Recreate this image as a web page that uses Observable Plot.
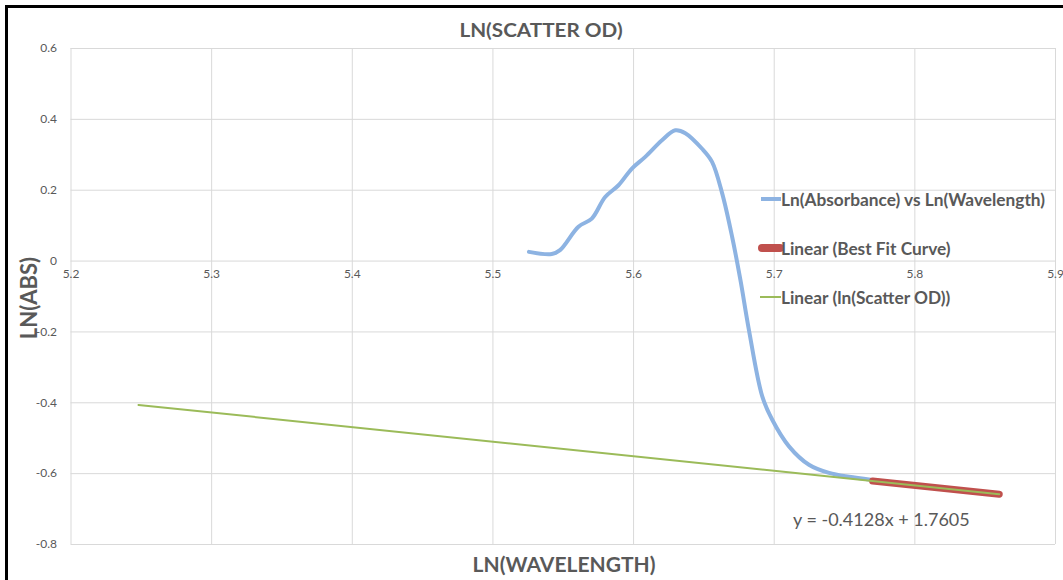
<!DOCTYPE html>
<html>
<head>
<meta charset="utf-8">
<script src="https://cdn.jsdelivr.net/npm/d3@7"></script>
<script src="https://cdn.jsdelivr.net/npm/@observablehq/plot@0.6"></script>
<style>
  html, body { margin: 0; padding: 0; background: #fff; }
  #wrap { position: relative; width: 1063px; height: 580px; overflow: hidden; font-family: Lato, "Open Sans", sans-serif; color: #595959; }
  #wrap svg { position: absolute; left: 0; top: 0; }
  .ov { position: absolute; white-space: nowrap; }
  #border { position: absolute; left: 5px; top: 5px; width: 1100px; height: 600px; border-left: 3px solid #000; border-top: 3px solid #000; pointer-events: none; }
</style>
</head>
<body>
<div id="wrap"></div>
<script>
// Ln(Absorbance) vs Ln(Wavelength) curve
const lnWavelength = [5.5256, 5.5418, 5.5477, 5.5608, 5.5703, 5.5798, 5.5893, 5.5988, 5.6083, 5.6202, 5.6297, 5.6368, 5.6487, 5.6558, 5.6630, 5.6701, 5.6760, 5.6820, 5.6915, 5.6986, 5.7105, 5.7247, 5.7390, 5.7532, 5.7686];
const lnAbsorbance = [0.026, 0.020, 0.031, 0.097, 0.120, 0.181, 0.214, 0.261, 0.294, 0.341, 0.369, 0.361, 0.317, 0.280, 0.191, 0.068, -0.054, -0.194, -0.382, -0.448, -0.523, -0.575, -0.598, -0.609, -0.617];
// Linear (Best Fit Curve)
const bestFitX = [5.770, 5.860];
const bestFitY = [-0.621, -0.658];
// Linear (ln(Scatter OD)) trendline
const trendX = [5.248, 5.860];
const trendY = [-0.406, -0.658];

const xTicks = [5.2, 5.3, 5.4, 5.5, 5.6, 5.7, 5.8, 5.9];
const yTicks = [-0.8, -0.6, -0.4, -0.2, 0, 0.2, 0.4, 0.6];

const titleText = "LN(SCATTER OD)";
const xLabel = "LN(WAVELENGTH)";
const yLabel = "LN(ABS)";
const equation = "y = -0.4128x + 1.7605";
const legendItems = ["Ln(Absorbance) vs Ln(Wavelength)", "Linear (Best Fit Curve)", "Linear (ln(Scatter OD))"];
const colors = ["#8db3e2", "#c0504d", "#9bbb59"];

const blue = lnWavelength.map((x, i) => ({x, y: lnAbsorbance[i]}));
const red = bestFitX.map((x, i) => ({x, y: bestFitY[i]}));
const green = trendX.map((x, i) => ({x, y: trendY[i]}));

const chart = Plot.plot({
  width: 1063,
  height: 580,
  marginLeft: 70.5,
  marginRight: 8,
  marginTop: 48,
  marginBottom: 36,
  style: {fontFamily: "Lato, 'Open Sans', sans-serif", fontSize: "12px", color: "#595959", background: "transparent"},
  x: {domain: [5.2, 5.9], label: null},
  y: {domain: [-0.8, 0.6], label: null},
  marks: [
    Plot.gridX(xTicks, {stroke: "#d9d9d9", strokeOpacity: 1, strokeWidth: 1}),
    Plot.gridY(yTicks, {stroke: "#d9d9d9", strokeOpacity: 1, strokeWidth: 1}),
    Plot.axisY({ticks: yTicks, tickSize: 0, tickPadding: 14, tickFormat: d => String(+d.toFixed(1)), fill: "#595959", fontSize: 12}),
    Plot.axisX({ticks: xTicks, tickSize: 0, tickPadding: 3, dy: -278, tickFormat: d => d.toFixed(1), fill: "#595959", fontSize: 12}),
    Plot.line(blue, {x: "x", y: "y", stroke: colors[0], strokeWidth: 4, curve: "catmull-rom", strokeLinecap: "round", strokeLinejoin: "round"}),
    Plot.line(red, {x: "x", y: "y", stroke: colors[1], strokeWidth: 7, strokeLinecap: "round"}),
    Plot.line(green, {x: "x", y: "y", stroke: colors[2], strokeWidth: 2})
  ]
});

const wrap = document.getElementById("wrap");
wrap.appendChild(chart);

function ov(text, css) {
  const d = document.createElement("div");
  d.className = "ov";
  d.textContent = text;
  Object.assign(d.style, css);
  wrap.appendChild(d);
  return d;
}

ov(titleText, {left: "541px", top: "30px", transform: "translate(-50%,-50%) scaleX(1.15)", fontSize: "18px", fontWeight: "bold"});
ov(xLabel, {left: "564px", top: "563px", transform: "translate(-50%,-50%)", fontSize: "21px", fontWeight: "bold"});
ov(yLabel, {left: "28px", top: "298px", transform: "translate(-50%,-50%) rotate(-90deg)", fontSize: "22px", fontWeight: "bold"});
ov(equation, {left: "793px", top: "519px", transform: "translateY(-50%)", fontSize: "18px"});

// legend
const legendY = [199, 248, 297];
const swatch = [
  {left: 761, width: 20, height: 3.5, radius: 0},
  {left: 758, width: 26, height: 8, radius: 4},
  {left: 760, width: 21, height: 2, radius: 0}
];
legendItems.forEach((t, i) => {
  const s = document.createElement("div");
  Object.assign(s.style, {position: "absolute", left: swatch[i].left + "px", top: (legendY[i] - swatch[i].height / 2) + "px", width: swatch[i].width + "px", height: swatch[i].height + "px", background: colors[i], borderRadius: swatch[i].radius + "px"});
  wrap.appendChild(s);
  ov(t, {left: "781px", top: legendY[i] + "px", transform: "translateY(-50%)", fontSize: "17.3px", fontWeight: "bold"});
});

const b = document.createElement("div");
b.id = "border";
wrap.appendChild(b);
</script>
</body>
</html>
